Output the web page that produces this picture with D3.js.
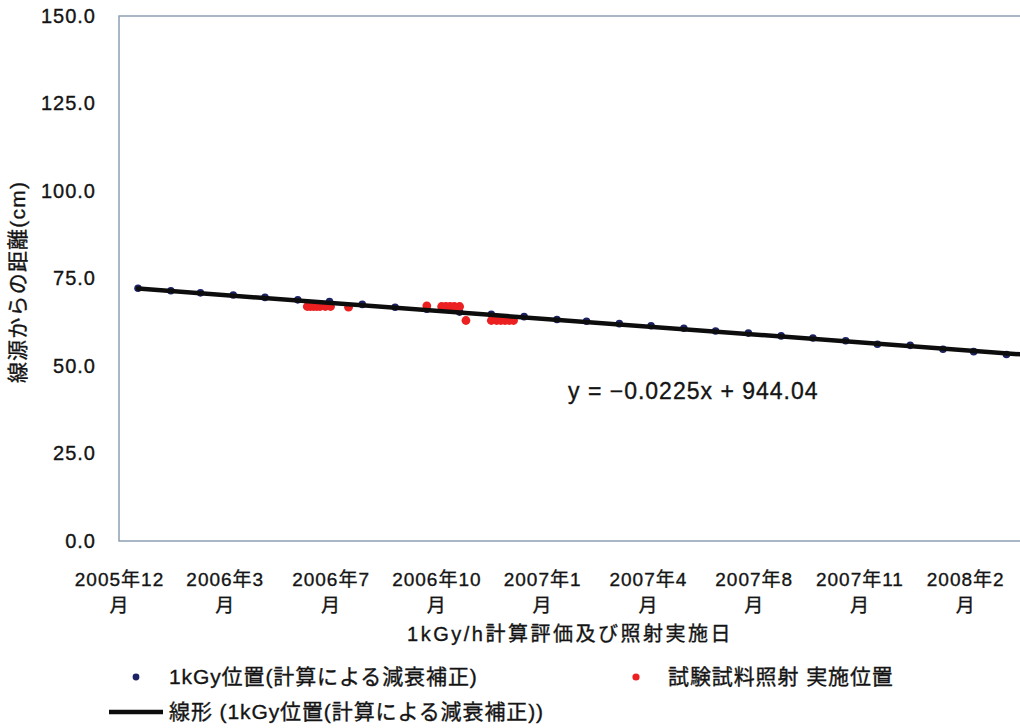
<!DOCTYPE html>
<html>
<head>
<meta charset="utf-8">
<script src="https://cdn.jsdelivr.net/npm/d3@7/dist/d3.min.js"></script>
<style>
  html, body { margin: 0; padding: 0; background: #fff; }
  svg { display: block; }
  text { font-family: "Liberation Sans", Arial, "Noto Sans CJK JP", sans-serif; fill: #141414; stroke: #141414; stroke-width: 0.35px; }
</style>
</head>
<body>
<svg id="chart" width="1020" height="728"></svg>
<script>
// 1kGy/h position (distance from source, cm), monthly attenuation-corrected values
const calcDates = [
  "2006-01-01","2006-02-01","2006-03-01","2006-04-01","2006-05-01","2006-06-01",
  "2006-07-01","2006-08-01","2006-09-01","2006-10-01","2006-11-01","2006-12-01",
  "2007-01-01","2007-02-01","2007-03-01","2007-04-01","2007-05-01","2007-06-01",
  "2007-07-01","2007-08-01","2007-09-01","2007-10-01","2007-11-01","2007-12-01",
  "2008-01-01","2008-02-01","2008-03-01","2008-04-01"
];
const calcValues = [
  72.2, 71.5, 70.9, 70.3, 69.6, 68.9,
  68.4, 67.6, 66.8, 66.2, 65.4, 64.8,
  64.1, 63.3, 62.8, 62.1, 61.5, 60.8,
  60.0, 59.4, 58.6, 58.0, 57.2, 56.2,
  55.9, 54.8, 54.1, 53.3
];

// Test sample irradiation positions
const testDates = [
  "2006-06-10","2006-06-13","2006-06-16","2006-06-19","2006-06-22","2006-06-27","2006-07-02","2006-07-19",
  "2006-10-01","2006-10-15","2006-10-19","2006-10-23","2006-10-27","2006-11-01",
  "2006-11-07","2006-12-01","2006-12-06","2006-12-10","2006-12-14","2006-12-18","2006-12-22"
];
const testValues = [
  67.0, 67.0, 67.0, 67.0, 67.0, 67.0, 67.0, 66.8,
  67.2, 67.0, 67.0, 67.0, 67.0, 67.0,
  63.0, 63.0, 63.0, 63.0, 63.0, 63.0, 63.0
];

// Linear trend of the 1kGy positions (x = spreadsheet date serial)
const trendSlope = -0.02252;
const trendIntercept = 944.04;

// Axis settings (date serials; 38700 = 2005-12-14)
const xMin = 38700, xMax = 39600, xStep = 100;
const yTicks = [0, 25, 50, 75, 100, 125, 150];

const seriesNames = ["1kGy位置(計算による減衰補正)", "試験試料照射 実施位置"];
const trendName = "線形 (1kGy位置(計算による減衰補正))";
const xTitle = "1kGy/h計算評価及び照射実施日";
const yTitle = "線源からの距離(cm)";

// ---- helpers ----
const EPOCH = Date.UTC(1899, 11, 30);
function toSerial(s) {
  const [y, m, d] = s.split("-").map(Number);
  return Math.round((Date.UTC(y, m - 1, d) - EPOCH) / 86400000);
}
function serialToDate(n) { return new Date(EPOCH + n * 86400000); }

const calc = calcDates.map((d, i) => ({ x: toSerial(d), y: calcValues[i] }));
const tests = testDates.map((d, i) => ({ x: toSerial(d), y: testValues[i] }));

const svg = d3.select("#chart");
const plot = { left: 119, top: 16, right: 1071, bottom: 541 };

const x = d3.scaleLinear().domain([xMin, xMax]).range([plot.left, plot.right]);
const y = d3.scaleLinear().domain([0, 150]).range([plot.bottom, plot.top]);

// plot frame
svg.append("rect")
  .attr("x", plot.left).attr("y", plot.top)
  .attr("width", plot.right - plot.left).attr("height", plot.bottom - plot.top)
  .attr("fill", "none").attr("stroke", "#8c9fb3").attr("stroke-width", 1.5);

// y axis (labels only)
const yAxis = d3.axisLeft(y).tickValues(yTicks).tickFormat(d3.format(".1f")).tickSize(0).tickPadding(0);
const gy = svg.append("g").attr("transform", `translate(${plot.left - 23},0)`).call(yAxis);
gy.select(".domain").remove();
gy.selectAll("text")
  .style("font-size", "20px").style("letter-spacing", "1px")
  .attr("fill", "#141414");

// x axis (two-line date labels)
const xTickVals = d3.range(xMin, xMax, xStep);
const xAxis = d3.axisBottom(x).tickValues(xTickVals).tickSize(0).tickFormat("");
const gx = svg.append("g").attr("transform", `translate(0,${plot.bottom})`).call(xAxis);
gx.select(".domain").remove();
gx.selectAll(".tick").each(function(d) {
  const dt = serialToDate(d);
  const t = d3.select(this).append("text")
    .attr("text-anchor", "middle")
    .style("font-size", "19px").style("letter-spacing", "1px");
  t.append("tspan").attr("x", 0).attr("y", 45).text(`${dt.getUTCFullYear()}年${dt.getUTCMonth() + 1}`);
  t.append("tspan").attr("x", 0).attr("y", 71).text("月");
});

// axis titles
svg.append("text")
  .attr("x", 570).attr("y", 641)
  .attr("text-anchor", "middle")
  .style("font-size", "20px").style("letter-spacing", "2.5px")
  .text(xTitle);

svg.append("text")
  .attr("transform", `translate(25,${282}) rotate(-90)`)
  .attr("text-anchor", "middle")
  .style("font-size", "21px").style("letter-spacing", "1.2px")
  .text(yTitle);

// clip for data marks
svg.append("clipPath").attr("id", "plotClip")
  .append("rect").attr("x", plot.left).attr("y", plot.top)
  .attr("width", plot.right - plot.left).attr("height", plot.bottom - plot.top);
const data = svg.append("g").attr("clip-path", "url(#plotClip)");

// calculated 1kGy positions
data.selectAll("circle.calc").data(calc).enter().append("circle")
  .attr("class", "calc")
  .attr("cx", d => x(d.x)).attr("cy", d => y(d.y)).attr("r", 3.8)
  .attr("fill", "#1c2262");

// test irradiation positions
data.selectAll("circle.test").data(tests).enter().append("circle")
  .attr("class", "test")
  .attr("cx", d => x(d.x)).attr("cy", d => y(d.y)).attr("r", 4.4)
  .attr("fill", "#ec2020");

// linear trend line
const trendX = [d3.min(calc, d => d.x), xMax];
data.append("line")
  .attr("x1", x(trendX[0])).attr("y1", y(trendSlope * trendX[0] + trendIntercept))
  .attr("x2", x(trendX[1])).attr("y2", y(trendSlope * trendX[1] + trendIntercept))
  .attr("stroke", "#0d0d0d").attr("stroke-width", 4.5).attr("stroke-linecap", "round");

// trend equation
svg.append("text")
  .attr("x", 568).attr("y", 399)
  .style("font-size", "23px").style("letter-spacing", "1px")
  .text(`y = −${Math.abs(trendSlope).toFixed(4)}x + ${trendIntercept.toFixed(2)}`);

// legend
const lg = svg.append("g").style("font-size", "21px").style("letter-spacing", "0.9px");
lg.append("circle").attr("cx", 136).attr("cy", 677).attr("r", 3.4).attr("fill", "#1c2262");
lg.append("text").attr("x", 169).attr("y", 684).text(seriesNames[0]);
lg.append("circle").attr("cx", 636).attr("cy", 677).attr("r", 3.6).attr("fill", "#ec2020");
lg.append("text").attr("x", 668).attr("y", 684).text(seriesNames[1]);
lg.append("line").attr("x1", 109).attr("x2", 163).attr("y1", 712).attr("y2", 712)
  .attr("stroke", "#0d0d0d").attr("stroke-width", 4.5);
lg.append("text").attr("x", 169).attr("y", 719).text(trendName);
</script>
</body>
</html>
